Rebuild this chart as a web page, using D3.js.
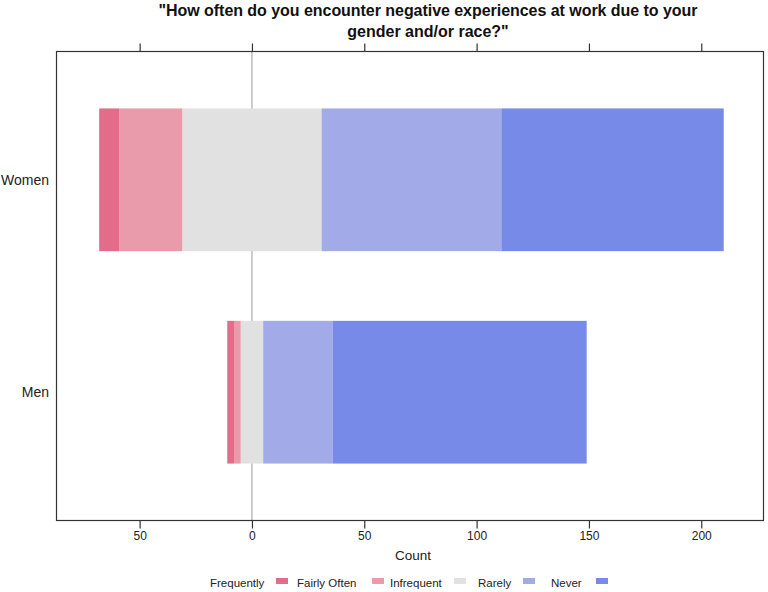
<!DOCTYPE html>
<html><head><meta charset="utf-8">
<script src="https://cdn.jsdelivr.net/npm/d3@7"></script>
<style>body{margin:0;background:#fff;font-family:"Liberation Sans",Arial,sans-serif;}</style>
</head><body>
<svg id="chart" width="768" height="592"></svg>
<script>
const categories = ["Women", "Men"];
const levels = ["Frequently", "Fairly Often", "Infrequent", "Rarely", "Never"];
const legendLabels = ["Frequently", "Fairly Often", "Infrequent", "Rarely", "Never"];
// counts per level (Frequently, Fairly Often, Infrequent, Rarely, Never)
const women = [9, 28, 62, 80, 99];
const men = [3, 3, 10, 31, 113];
const xTicks = [-50, 0, 50, 100, 150, 200];
const colors = ["#e26c8a", "#e99bab", "#e1e1e1", "#a2abe8", "#778ae7"];

const svg = d3.select("#chart");
const L = 56.5, R = 763.5, T = 51.5, B = 520.5;
const x = d3.scaleLinear().domain([-87, 227.7]).range([L, R]);
const y = d3.scaleLinear().domain([0.396, 2.604]).range([T, B]);
const barH = 0.672;

const data = [women, men];

// zero line
svg.append("line").attr("x1", x(0)).attr("x2", x(0)).attr("y1", T).attr("y2", B)
  .attr("stroke", "#aaaaaa").attr("stroke-width", 1.2);

data.forEach((vals, i) => {
  const c = i + 1;
  const segs = [];
  let left = -vals[2] / 2;
  segs.push({k: 2, x0: -vals[2] / 2, x1: vals[2] / 2});
  segs.push({k: 1, x0: left - vals[1], x1: left}); left -= vals[1];
  segs.push({k: 0, x0: left - vals[0], x1: left});
  let right = vals[2] / 2;
  segs.push({k: 3, x0: right, x1: right + vals[3]}); right += vals[3];
  segs.push({k: 4, x0: right, x1: right + vals[4]});
  svg.append("g").selectAll("rect").data(segs).join("rect")
    .attr("x", d => x(d.x0)).attr("width", d => x(d.x1) - x(d.x0))
    .attr("y", y(c - barH / 2)).attr("height", y(c + barH / 2) - y(c - barH / 2))
    .attr("fill", d => colors[d.k]);
});

// panel box
svg.append("rect").attr("x", L).attr("y", T).attr("width", R - L).attr("height", B - T)
  .attr("fill", "none").attr("stroke", "#333").attr("stroke-width", 1.2);

// bottom axis
const axB = d3.axisBottom(x).tickValues(xTicks).tickSize(8).tickPadding(3)
  .tickFormat(d => Math.abs(d));
const gB = svg.append("g").attr("transform", `translate(0,${B})`).call(axB);
gB.select(".domain").remove();
gB.selectAll("line").attr("stroke", "#333").attr("stroke-width", 1.2);
gB.selectAll("text").attr("font-size", 12).attr("fill", "#222")
  .attr("font-family", "Liberation Sans, Arial, sans-serif");

// top axis
const axT = d3.axisTop(x).tickValues(xTicks).tickSize(8).tickFormat("");
const gT = svg.append("g").attr("transform", `translate(0,${T})`).call(axT);
gT.select(".domain").remove();
gT.selectAll("line").attr("stroke", "#333").attr("stroke-width", 1.2);

// y labels
categories.forEach((c, i) => {
  svg.append("text").attr("x", 49).attr("y", y(i + 1)).attr("dy", "0.35em")
    .attr("text-anchor", "end").attr("font-size", 14).attr("fill", "#222").text(c);
});

// axis title
svg.append("text").attr("x", (L + R) / 2 + 3).attr("y", 560).attr("text-anchor", "middle")
  .attr("font-size", 13.5).attr("fill", "#222").text("Count");

// title
const title = ["\"How often do you encounter negative experiences at work due to your", "gender and/or race?\""];
title.forEach((t, i) => {
  svg.append("text").attr("x", 428).attr("y", 16 + i * 21).attr("text-anchor", "middle")
    .attr("font-size", 16).attr("font-weight", "bold").attr("fill", "#111")
    .attr("textLength", i === 0 ? 539 : null).text(t);
});

// legend
const legText = [210, 297, 390, 478, 551];
const legSw = [276, 372, 454, 523, 596];
legendLabels.forEach((t, i) => {
  svg.append("text").attr("x", legText[i]).attr("y", 587).attr("font-size", 11.5)
    .attr("fill", "#222").text(t);
  svg.append("rect").attr("x", legSw[i]).attr("y", 578).attr("width", 12).attr("height", 6)
    .attr("fill", colors[i]);
});
</script>
</body></html>
